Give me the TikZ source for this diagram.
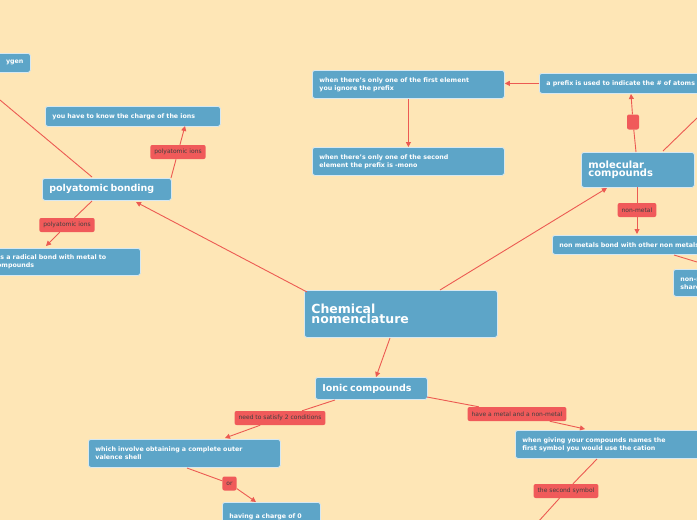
\documentclass[tikz,border=0pt]{standalone}
\usepackage{fontspec}
\setmainfont{DejaVu Sans}
\usetikzlibrary{arrows.meta}
\definecolor{bg}{HTML}{FEE6B6}
\definecolor{bx}{HTML}{5DA5C8}
\definecolor{rd}{HTML}{F05A5A}
\definecolor{ln}{HTML}{EC5A52}
\tikzset{
  box/.style={fill=bx,draw=white!75!bx,line width=0.8pt,rounded corners=2.5pt,text=white,font=\bfseries\fontsize{6.3}{8}\selectfont,align=left,anchor=north west,inner xsep=7pt,inner ysep=0pt},
  lbl/.style={fill=rd,rounded corners=2pt,text=black!75,font=\fontsize{6}{7}\selectfont,inner xsep=4pt,inner ysep=0pt,minimum height=14pt},
  con/.style={draw=ln,line width=0.9pt},
  arr/.style={con,-{Triangle[length=5pt,width=5pt]}}
}
\newcommand{\bxn}[6]{\node[box,minimum width=#3pt,minimum height=#4pt,text width={#3pt-12pt}] (#1) at (#2) {\hyphenpenalty=10000 #5#6};}
\begin{document}
\begin{tikzpicture}[x=1pt,y=-1pt]
\fill[bg] (0,0) rectangle (697,520);
\useasboundingbox (0,0) rectangle (697,520);
\clip (0,0) rectangle (697,520);
% boxes
\bxn{oxy}{-60,53}{88}{19}{}{\hfill ygen}
\bxn{know}{45,106}{173}{20}{}{you have to know the charge of the ions}
\bxn{poly}{42,178}{127}{22}{\fontsize{9.5}{12}\selectfont}{polyatomic bonding}
\bxn{rad}{-14,248}{152}{27}{}{\hspace*{-3pt}s as a radical bond with metal to\\compounds}
\bxn{chem}{304,290}{191}{47}{\fontsize{12.5}{17}\selectfont}{Chemical\\nomenclature}
\bxn{ionic}{315,377}{110}{22}{\fontsize{9.5}{12}\selectfont}{Ionic compounds}
\bxn{which}{88,439}{190}{28}{}{which involve obtaining a complete outer\\valence shell}
\bxn{zero}{222,502}{96}{28}{}{having a charge of 0}
\bxn{giving}{515,430}{200}{28}{}{when giving your compounds names the\\first symbol you would use the cation}
\bxn{first}{312,70}{190}{28}{}{when there's only one of the first element\\you ignore the prefix}
\bxn{second}{312,147}{190}{28}{}{when there's only one of the second\\element the prefix is -mono}
\bxn{prefix}{539,73}{220}{20}{}{a prefix is used to indicate the \# of atoms}
\bxn{mol}{581,152}{111}{35}{\fontsize{10}{13}\selectfont}{molecular\\compounds}
\bxn{nonm}{552,235}{220}{19}{}{non metals bond with other non metals}
\bxn{share}{673,269}{80}{27}{}{non-metals\\share}
% labels
\node[lbl] (l1) at (178,152) {polyatomic ions};
\node[lbl] (l2) at (67,225) {polyatomic ions};
\node[lbl,minimum width=12pt,minimum height=15pt,inner xsep=0pt] (l3) at (633,122) {};
\node[lbl] (l4) at (637,210) {non-metal};
\node[lbl] (l5) at (280,418) {need to satisfy 2 conditions};
\node[lbl] (l6) at (517,414) {have a metal and a non-metal};
\node[lbl] (l7) at (229.5,483.5) {or};
\node[lbl] (l8) at (566,491) {the second symbol};
\coordinate (e1) at (0,100);
\coordinate (e2) at (697,118);
\coordinate (e3) at (697,262);
\coordinate (e4) at (538,522);
% connectors
\draw[con] (e1) -- (92,177);
\draw[con] (171,178) -- (l1);
\draw[arr] (l1) -- (185,126);
\draw[arr] (307,292) -- (136,202);
\draw[con] (92,201) -- (l2);
\draw[arr] (l2) -- (46,246);
\draw[arr] (440,290) -- (607,188);
\draw[arr] (390,338) -- (376,377);
\draw[con] (636,152) -- (l3);
\draw[arr] (l3) -- (631,94);
\draw[con] (663,151) -- (e2);
\draw[arr] (prefix.west) -- (first.east |- prefix.west);
\draw[arr] (first.south) -- (second.north);
\draw[con] (637,187) -- (l4);
\draw[arr] (l4) -- (637,234);
\draw[con] (674,255) -- (e3);
\draw[con] (335,400) -- (l5);
\draw[arr] (l5) -- (225,438);
\draw[con] (427,397) -- (l6);
\draw[arr] (l6) -- (585,429);
\draw[con] (187,468) -- (l7);
\draw[arr] (l7) -- (256,502);
\draw[con] (597,459) -- (l8);
\draw[con] (l8) -- (e4);
\end{tikzpicture}
\end{document}
